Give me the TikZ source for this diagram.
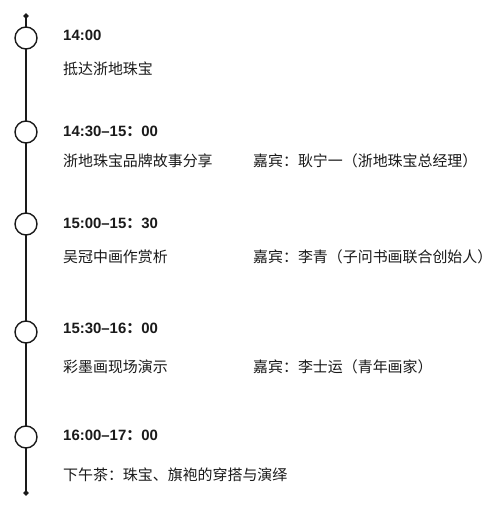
\documentclass[tikz,border=0pt]{standalone}
\usepackage{fontspec}
\setmainfont{Noto Sans CJK SC}
\newfontfamily\cjk{Noto Sans CJK SC}
\newfontfamily\lat{Liberation Sans}
\usetikzlibrary{shapes.geometric}
\definecolor{ink}{HTML}{1A1A1A}
\newcommand{\tm}[2]{{\lat\bfseries #1}{\cjk\bfseries ：}{\lat\bfseries #2}}
\begin{document}
\begin{tikzpicture}[x=1bp,y=-1bp,
  dot/.style={circle,draw=ink,line width=1.4bp,fill=white,minimum size=22bp,inner sep=0pt},
  tip/.style={diamond,fill=ink,inner sep=0pt,minimum size=6bp},
  timelab/.style={anchor=west,inner sep=0pt,text=ink,font=\lat\bfseries\fontsize{15}{17}\selectfont},
  desc/.style={anchor=west,inner sep=0pt,text=ink,font=\cjk\fontsize{15}{17}\selectfont},
  tl/.style={line width=2bp,draw=ink}]
\useasboundingbox[fill=white] (0,0) rectangle (504,508);
\node[tip] (top) at (26,16) {};
\node[tip] (bot) at (26,493) {};
\coordinate (c1) at (26,38);
\coordinate (c2) at (26,132);
\coordinate (c3) at (26,224);
\coordinate (c4) at (26,332);
\coordinate (c5) at (26,437);
\draw[tl] (top.center) -- (bot.center);
\node[dot] (d1) at (c1) {};
\node[dot] (d2) at (c2) {};
\node[dot] (d3) at (c3) {};
\node[dot] (d4) at (c4) {};
\node[dot] (d5) at (c5) {};
\node[timelab] (t1) at (63,35) {14:00};
\node[desc] (s1) at (63,69) {抵达浙地珠宝};
\node[timelab] (t2) at (63,131) {\tm{14:30–15}{00}};
\node[desc] (s2) at (63,161) {浙地珠宝品牌故事分享};
\node[desc] (g2) at (253,161) {嘉宾：耿宁一（浙地珠宝总经理）};
\node[timelab] (t3) at (63,223) {\tm{15:00–15}{30}};
\node[desc] (s3) at (63,257) {吴冠中画作赏析};
\node[desc] (g3) at (253,257) {嘉宾：李青（子问书画联合创始人）};
\node[timelab] (t4) at (63,328) {\tm{15:30–16}{00}};
\node[desc] (s4) at (63,367) {彩墨画现场演示};
\node[desc] (g4) at (253,367) {嘉宾：李士运（青年画家）};
\node[timelab] (t5) at (63,435) {\tm{16:00–17}{00}};
\node[desc] (s5) at (63,475) {下午茶：珠宝、旗袍的穿搭与演绎};
\end{tikzpicture}
\end{document}
